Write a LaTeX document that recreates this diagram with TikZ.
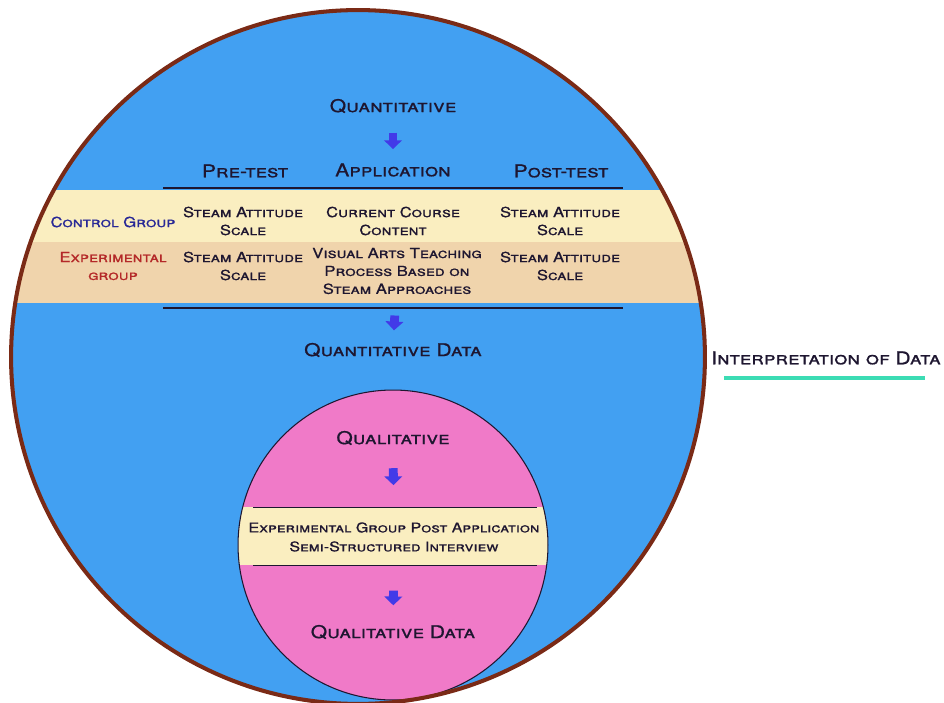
\documentclass[tikz,border=0pt]{standalone}
\usepackage{fontspec}
\setmainfont{TeX Gyre Heros}[FakeStretch=1.2, FakeBold=0.8]
\usetikzlibrary{arrows.meta, positioning}
\definecolor{skyblue}{RGB}{66,160,242}
\definecolor{bandyellow}{RGB}{250,238,192}
\definecolor{bandorange}{RGB}{240,212,172}
\definecolor{rimbrown}{RGB}{122,42,22}
\definecolor{pinkfill}{RGB}{240,122,200}
\definecolor{inkdark}{RGB}{30,22,48}
\definecolor{ctrlblue}{RGB}{40,40,150}
\definecolor{exred}{RGB}{180,40,40}
\definecolor{arrowblue}{RGB}{66,58,232}
\definecolor{tealline}{RGB}{60,220,180}
\tikzset{x=0.02cm, y=-0.02cm,
    head/.style={font=\fontsize{10}{12}\selectfont\scshape, text=inkdark, inner sep=0pt},
    cell/.style={font=\fontsize{7.9}{10.2}\selectfont\scshape, text=inkdark, align=center, inner sep=0pt},
    rim/.style={draw=rimbrown, line width=2.3pt},
    ring/.style={draw=inkdark, line width=0.6pt},
    rule/.style={draw=inkdark, line width=1.1pt},
    thinrule/.style={draw=inkdark, line width=0.5pt},
    flow/.style={arrowblue, line width=5pt, -{Triangle[width=10pt,length=5pt]}}}

\begin{document}
\begin{tikzpicture}
\useasboundingbox (0,0) rectangle (944,703);
% outer circle with its band
\fill[skyblue] (358,357) circle[radius=6.94cm];
\begin{scope}
\clip (358,357) circle[radius=6.94cm];
\fill[bandyellow] (0,190) rectangle (944,242);
\fill[bandorange] (0,242) rectangle (944,303);
\end{scope}
\draw[rule] (163,188) -- (623,188);
\draw[rule] (163,308) -- (623,308);

\node[head] (quant)  at (393,106) {Quantitative};
\node[head] (pre)    at (245,171) {Pre-test};
\node[head] (app)    at (393,170) {Application};
\node[head] (post)   at (561,171) {Post-test};
\node[cell, text=ctrlblue] (ctrl) at (113,222) {Control Group};
\node[cell] (ctrlpre)  at (243,221) {Steam Attitude\\Scale};
\node[cell] (ctrlapp)  at (393,221) {Current Course\\Content};
\node[cell] (ctrlpost) at (560,221) {Steam Attitude\\Scale};
\node[cell, text=exred] (exp) at (113,266) {Experimental\\group};
\node[cell] (exppre)   at (243,266) {Steam Attitude\\Scale};
\node[cell] (expapp)   at (397,271) {Visual Arts Teaching\\Process Based on\\Steam Approaches};
\node[cell] (exppost)  at (560,266) {Steam Attitude\\Scale};
\node[head] (qdata)  at (393,350) {Quantitative Data};

% inner circle
\fill[pinkfill] (393,545) circle[radius=3.1cm];
\begin{scope}
\clip (393,545) circle[radius=3.1cm];
\fill[bandyellow] (0,507) rectangle (944,565);
\end{scope}
\draw[ring] (393,545) circle[radius=3.1cm];
\draw[thinrule] (253,507) -- (537,507);
\draw[thinrule] (253,565) -- (537,565);

\node[head] (qual)     at (393,438) {Qualitative};
\node[cell, font=\fontsize{7.6}{10.8}\selectfont\scshape] (intv) at (394,537) {Experimental Group Post Application\\Semi-Structured Interview};
\node[head] (qualdata) at (393,632) {Qualitative Data};

\draw[rim] (358,357) circle[radius=6.94cm];

\path[flow]
    (quant) edge [shorten <=11pt, shorten >=8pt]  (app)
    (expapp) edge [shorten <=12pt, shorten >=7pt] (qdata)
    (qual) edge [shorten <=13pt, shorten >=21pt]  (intv)
    (intv) edge [shorten <=22pt, shorten >=11pt]  (qualdata);

\node[head] (interp) at (826,358) {Interpretation of Data};
\draw[tealline, line width=1.8pt] (724,378) -- (925,378);
\end{tikzpicture}
\end{document}
